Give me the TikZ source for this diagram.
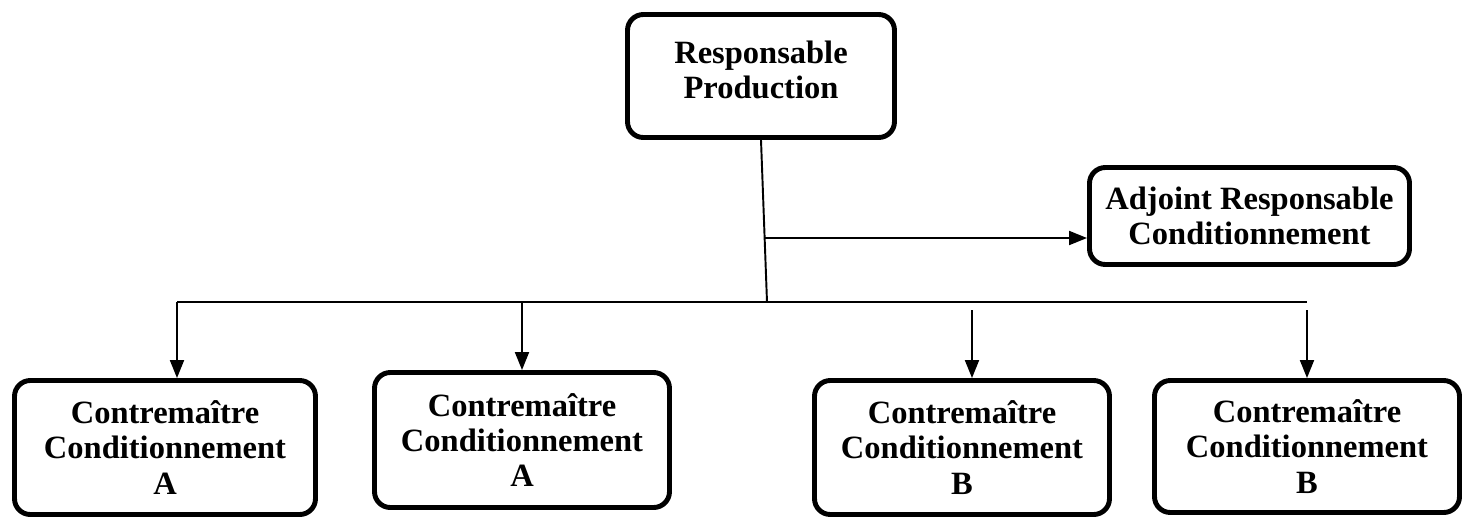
\documentclass[tikz,border=0pt]{standalone}
\usepackage{fontspec}
\setmainfont{Liberation Serif}
\usetikzlibrary{positioning,arrows.meta}

\begin{document}
\begin{tikzpicture}[
  font=\fontsize{18.5}{20}\selectfont\bfseries,
  >={Triangle[length=3.6mm, width=2.8mm]},
  base/.style={draw, line width=2.8pt, rounded corners=9pt, align=center, inner sep=3pt},
  ln/.style={line width=1.1pt},
  ar/.style={->, line width=1.1pt}
]
\useasboundingbox (0,0) rectangle (29.46,-10.38);
% niveau 1
\node[base, minimum width=5.34cm, minimum height=2.46cm, text depth=0.25cm] (resp) at (15.22,-1.52) {Responsable\\Production};
\node[base, minimum width=6.4cm, minimum height=1.94cm] (adj) at (24.99,-4.32) {Adjoint Responsable\\Conditionnement};
% niveau 2
\node[base, minimum width=6.02cm, minimum height=2.68cm] (ca1) at (3.30,-8.95) {Contremaître\\Conditionnement\\A};
\node[base, minimum width=5.9cm, minimum height=2.7cm] (ca2) at (10.44,-8.80) {Contremaître\\Conditionnement\\A};
\node[base, minimum width=5.9cm, minimum height=2.68cm] (cb1) at (19.24,-8.95) {Contremaître\\Conditionnement\\B};
\node[base, minimum width=6.1cm, minimum height=2.64cm] (cb2) at (26.14,-8.93) {Contremaître\\Conditionnement\\B};
% liaisons
\coordinate (bus) at (15.34,-6.04);
\coordinate (mid) at (15.3,-4.76);
\coordinate (d1) at ([xshift=0.24cm]ca1.north);
\coordinate (d3) at ([xshift=0.2cm]cb1.north);
\draw[ln] (resp.south) -- (bus);
\draw[ar] (mid) -- (mid -| adj.west);
\draw[ln] (d1 |- bus) -- (cb2.north |- bus);
\draw[ar] (d1 |- bus) -- (d1);
\draw[ar] (ca2.north |- bus) -- (ca2.north);
\draw[ar] ([yshift=-0.16cm]d3 |- bus) -- (d3);
\draw[ar] ([yshift=-0.16cm]cb2.north |- bus) -- (cb2.north);
\end{tikzpicture}
\end{document}
